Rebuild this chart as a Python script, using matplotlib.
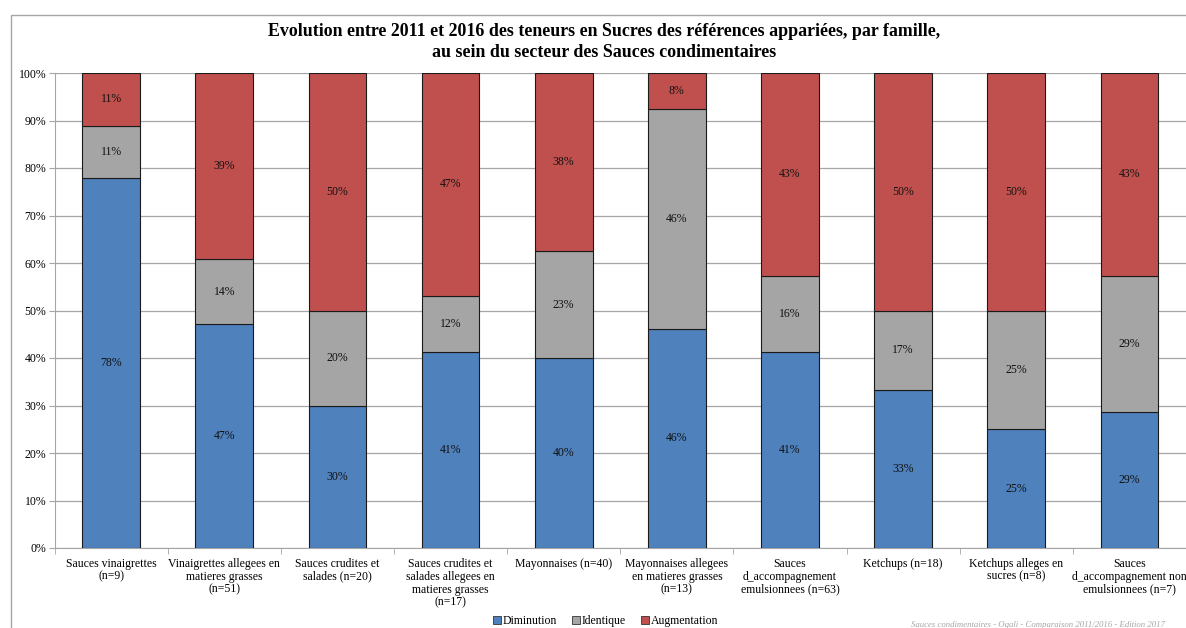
import numpy as np
import matplotlib.pyplot as plt
from matplotlib.patches import Rectangle
from matplotlib.lines import Line2D

# --- données (%) ---
familles = [
    "Sauces vinaigrettes\n(n=9)",
    "Vinaigrettes allegees en\nmatieres grasses\n(n=51)",
    "Sauces crudites et\nsalades (n=20)",
    "Sauces crudites et\nsalades allegees en\nmatieres grasses\n(n=17)",
    "Mayonnaises (n=40)",
    "Mayonnaises allegees\nen matieres grasses\n(n=13)",
    "Sauces\nd_accompagnement\nemulsionnees (n=63)",
    "Ketchups (n=18)",
    "Ketchups alleges en\nsucres (n=8)",
    "Sauces\nd_accompagnement non\nemulsionnees (n=7)",
]
diminution = [77.8, 47.1, 30.0, 41.2, 40.0, 46.2, 41.3, 33.3, 25.0, 28.6]
identique = [11.1, 13.7, 20.0, 11.8, 22.5, 46.2, 15.9, 16.7, 25.0, 28.6]
augmentation = [11.1, 39.2, 50.0, 47.1, 37.5, 7.7, 42.9, 50.0, 50.0, 42.9]
series = ["Diminution", "Identique", "Augmentation"]
couleurs = ["#4F81BD", "#A5A5A5", "#C0504D"]

plt.rcParams['font.family'] = ['Liberation Serif', 'DejaVu Serif']

fig = plt.figure(figsize=(11.86, 6.28), dpi=100)
ax = fig.add_axes([54.5 / 1186, 1 - 548 / 628, 1 - 54.5 / 1186, (548 - 73) / 628])

# cadre du graphique (gris, à gauche et en haut)
fig.patches.append(Rectangle((11 / 1186, -0.01), 1.2, 1 - 15 / 628 + 0.01,
                             transform=fig.transFigure, fill=False,
                             edgecolor="#A6A6A6", linewidth=1.0, zorder=0))

x = np.arange(len(familles))
bas = np.zeros(len(familles))
for nom, vals, c in zip(series, [diminution, identique, augmentation], couleurs):
    vals = np.array(vals)
    ax.bar(x, vals, 0.51, bottom=bas, color=c, edgecolor="#1a1a1a",
           linewidth=0.8, zorder=3, label=nom)
    for xi, b, v in zip(x, bas, vals):
        ax.text(xi, b + v / 2, f"{int(v + 0.5)}%", ha="center", va="center",
                fontsize=8.5, color="#111111", zorder=4)
    bas += vals

ax.set_xlim(-0.5, len(familles) - 0.5)
ax.set_ylim(0, 100)
ax.set_yticks(np.arange(0, 101, 10))
ax.set_yticklabels([f"{t}%" for t in range(0, 101, 10)], fontsize=8.5)
ax.yaxis.grid(True, color="#A6A6A6", linewidth=0.9, zorder=0)
ax.set_axisbelow(True)

ax.set_xticks(x)
ax.set_xticklabels(familles, fontsize=8.5, va="top", linespacing=1.1)
ax.tick_params(axis="x", length=0, pad=7)
ax.set_xticks(np.arange(-0.5, len(familles)), minor=True)
ax.tick_params(axis="x", which="minor", length=4, color="#A6A6A6")
ax.tick_params(axis="y", length=4, color="#A6A6A6", pad=2)

for s in ["top", "right"]:
    ax.spines[s].set_visible(False)
ax.spines["left"].set_color("#A6A6A6")
ax.spines["bottom"].set_color("#A6A6A6")

fig.text(604 / 1186, 1 - 42 / 628,
         "Evolution entre 2011 et 2016 des teneurs en Sucres des références appariées, par famille,\n"
         "au sein du secteur des Sauces condimentaires",
         ha="center", va="center", fontsize=12.9, fontweight="bold", linespacing=1.3)

poignees = [Line2D([0], [0], marker="s", linestyle="", markersize=6,
                   markerfacecolor=c, markeredgecolor="#333333", markeredgewidth=0.6)
            for c in couleurs]
fig.legend(poignees, series, loc="center", bbox_to_anchor=(605 / 1186, 1 - 621 / 628),
           ncol=3, frameon=False, fontsize=8.5, handletextpad=0.1, columnspacing=1.2,
           handlelength=0.8)

fig.text(1038 / 1186, 1 - 625 / 628,
         "Sauces condimentaires - Oqali - Comparaison 2011/2016 - Edition 2017",
         ha="center", va="center", fontsize=6.3, style="italic", color="#A6A6A6")

fig.savefig("out.png", dpi=100)
